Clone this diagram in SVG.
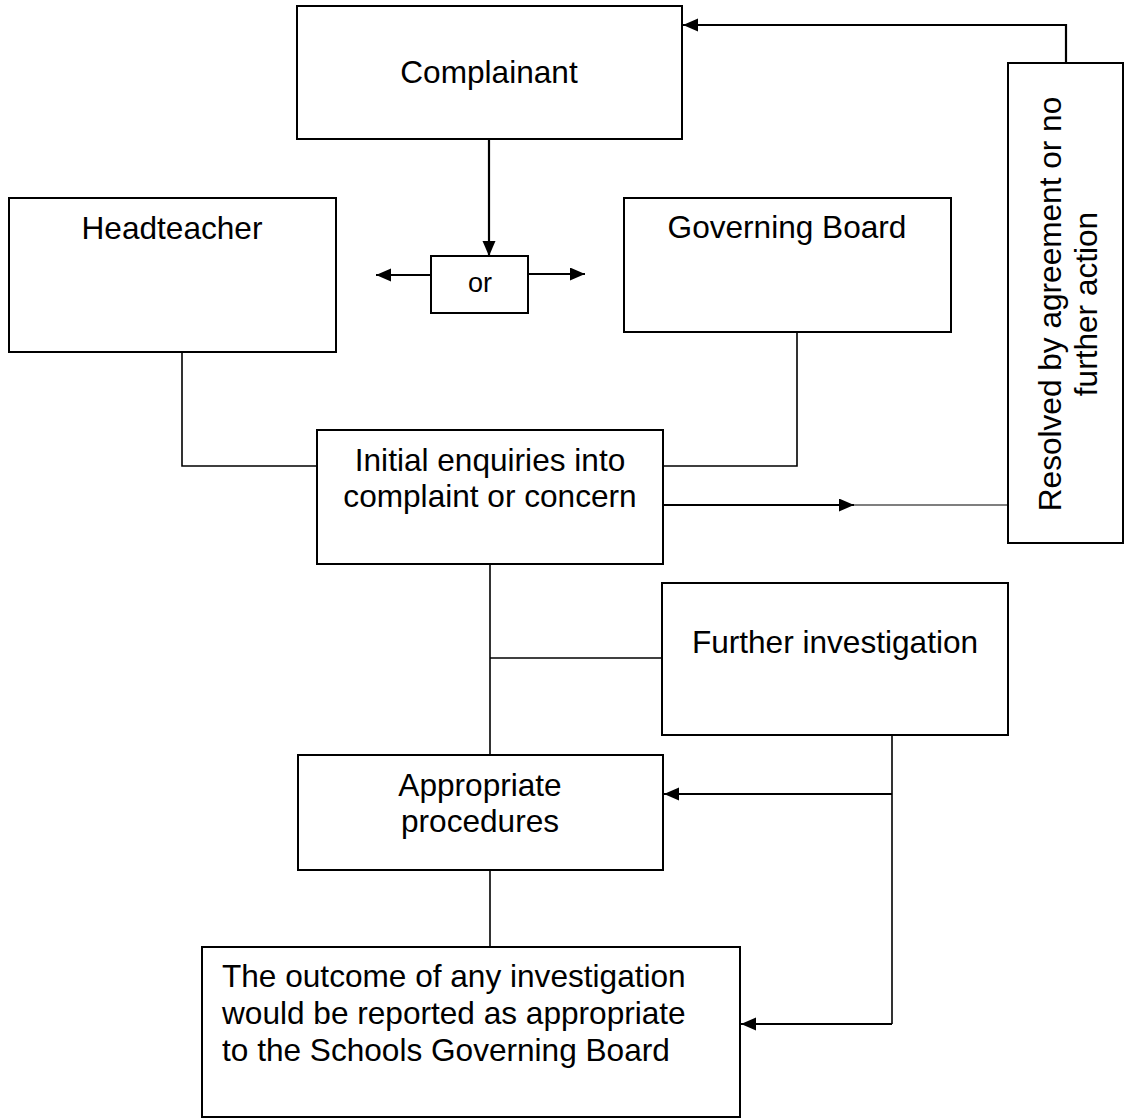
<svg xmlns="http://www.w3.org/2000/svg" width="1127" height="1120" viewBox="0 0 1127 1120">
<style>
.box{fill:#fff;stroke:#000;stroke-width:2}
.t{font-family:"Liberation Sans",Arial,sans-serif;font-size:31.6px;fill:#000}
.c{text-anchor:middle}
.ln{fill:none;stroke:#000;stroke-width:1.6}
.ar{fill:none;stroke:#000;stroke-width:2.2}
.thin{fill:none;stroke:#000;stroke-width:1.1}
</style>
<defs>
<marker id="ah" markerUnits="userSpaceOnUse" markerWidth="16" markerHeight="14" refX="15" refY="6.5" orient="auto">
<path d="M0,0 L15,6.5 L0,13 z" fill="#000"/>
</marker>
</defs>
<rect width="1127" height="1120" fill="#fff"/>
<g id="connectors">
<line class="ar" x1="489" y1="139" x2="489" y2="256" marker-end="url(#ah)"/>
<line class="ar" x1="431" y1="275" x2="376" y2="275" marker-end="url(#ah)"/>
<line class="ar" x1="528" y1="274" x2="585" y2="274" marker-end="url(#ah)"/>
<polyline class="ar" points="1066,63 1066,25 683,25" marker-end="url(#ah)"/>
<polyline class="ln" points="182,352 182,466 317,466"/>
<polyline class="ln" points="797,332 797,466 663,466"/>
<line class="ar" x1="663" y1="505" x2="854" y2="505" marker-end="url(#ah)"/>
<line class="thin" x1="854" y1="505" x2="1008" y2="505"/>
<line class="ln" x1="490" y1="564" x2="490" y2="755"/>
<line class="ln" x1="490" y1="658" x2="662" y2="658"/>
<line class="ln" x1="892" y1="735" x2="892" y2="1024"/>
<line class="ar" x1="892" y1="794" x2="664" y2="794" marker-end="url(#ah)"/>
<line class="ar" x1="892" y1="1024" x2="741" y2="1024" marker-end="url(#ah)"/>
<line class="ln" x1="490" y1="870" x2="490" y2="947"/>
</g>
<g id="complainant">
<rect class="box" x="297" y="6" width="385" height="133"/>
<text class="t c" x="489" y="83">Complainant</text>
</g>
<g id="headteacher">
<rect class="box" x="9" y="198" width="327" height="154"/>
<text class="t c" x="172" y="239">Headteacher</text>
</g>
<g id="or">
<rect class="box" x="431" y="256" width="97" height="57"/>
<text class="t c" x="480" y="292" style="font-size:27px">or</text>
</g>
<g id="governing-board">
<rect class="box" x="624" y="198" width="327" height="134"/>
<text class="t c" x="787" y="238">Governing Board</text>
</g>
<g id="resolved">
<rect class="box" x="1008" y="63" width="115" height="480"/>
<text class="t c" transform="translate(1061,304) rotate(-90)"><tspan x="0" y="0">Resolved by agreement or no</tspan><tspan x="0" y="36">further action</tspan></text>
</g>
<g id="initial-enquiries">
<rect class="box" x="317" y="430" width="346" height="134"/>
<text class="t c" x="490" y="471">Initial enquiries into</text>
<text class="t c" x="490" y="507">complaint or concern</text>
</g>
<g id="further-investigation">
<rect class="box" x="662" y="583" width="346" height="152"/>
<text class="t c" x="835" y="653">Further investigation</text>
</g>
<g id="appropriate-procedures">
<rect class="box" x="298" y="755" width="365" height="115"/>
<text class="t c" x="480" y="796">Appropriate</text>
<text class="t c" x="480" y="832">procedures</text>
</g>
<g id="outcome">
<rect class="box" x="202" y="947" width="538" height="170"/>
<text class="t" x="222" y="987">The outcome of any investigation</text>
<text class="t" x="222" y="1024">would be reported as appropriate</text>
<text class="t" x="222" y="1061">to the Schools Governing Board</text>
</g>
</svg>
